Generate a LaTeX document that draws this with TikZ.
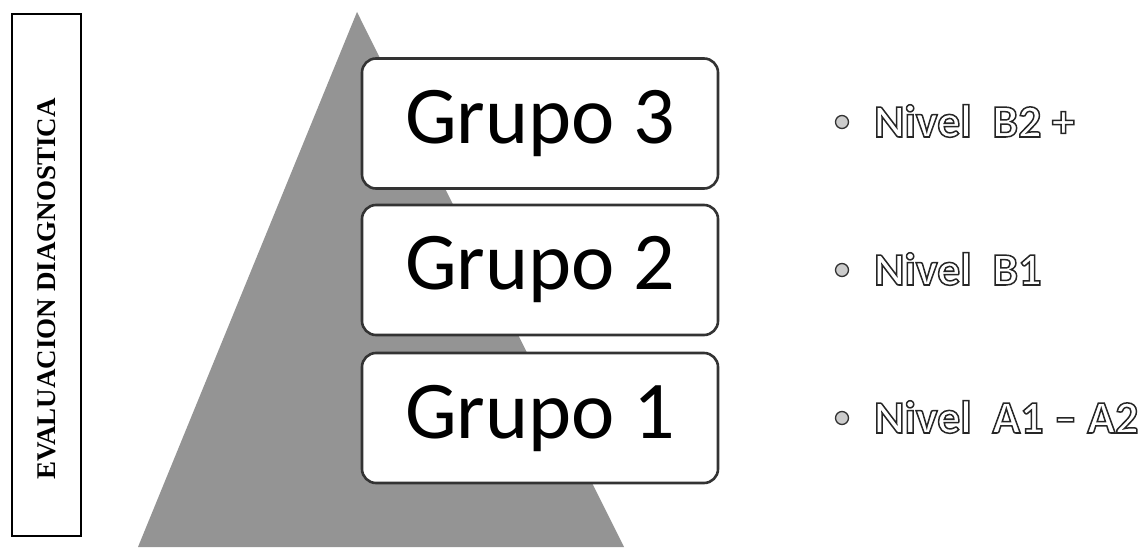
\documentclass[tikz,border=0pt]{standalone}
\usepackage{fontspec}
\setmainfont{Liberation Serif}
\newfontfamily\calib{Carlito}
\begin{document}
\begin{tikzpicture}[x=1pt,y=1pt,
  grp/.style={draw=black!80, line width=2.6pt, fill=white, rounded corners=14pt,
    minimum width=356pt, minimum height=130pt, inner sep=0pt,
    font=\calib\fontsize{82}{90}\selectfont},
  lvl/.style={anchor=base west, inner sep=0pt, text=black!85,
    font=\calib\bfseries\fontsize{46}{50}\selectfont},
  bul/.style={circle, draw=black!80, line width=1.3pt, fill=black!20, minimum size=13pt, inner sep=0pt}
]
\useasboundingbox (0,0) rectangle (1148,547);
% left frame
\node[draw=black, line width=2pt, minimum width=69pt, minimum height=522pt, inner sep=0pt] (frame) at (46.5,272) {};
\node[rotate=90, font=\bfseries\fontsize{27}{30}\selectfont] (title) at (47,258) {EVALUACION DIAGNOSTICA};
% pyramid
\coordinate (apex) at (357,535);
\coordinate (bl) at (138,0);
\coordinate (br) at (624,0);
\fill[black!42] (bl) -- (apex) -- (br) -- cycle;
% boxes
\node[grp] (g3) at (540,423.5) {Grupo 3};
\node[grp] (g2) at (540,277) {Grupo 2};
\node[grp] (g1) at (540,129) {Grupo 1};
% levels
\newcommand\hollow[1]{\special{pdf:literal direct 1 Tr 1.5 w}#1\special{pdf:literal direct 0 Tr}}
\node[bul] (b3) at (842,425) {};
\node[lvl] (n3) at (874,410) {\hollow{Nivel\ \ B2 +}};
\node[bul] (b2) at (842,277) {};
\node[lvl] (n2) at (874,262) {\hollow{Nivel\ \ B1}};
\node[bul] (b1) at (842,129) {};
\node[lvl] (n1) at (874,114) {\hollow{Nivel\ \ A1 – A2}};
\end{tikzpicture}
\end{document}
